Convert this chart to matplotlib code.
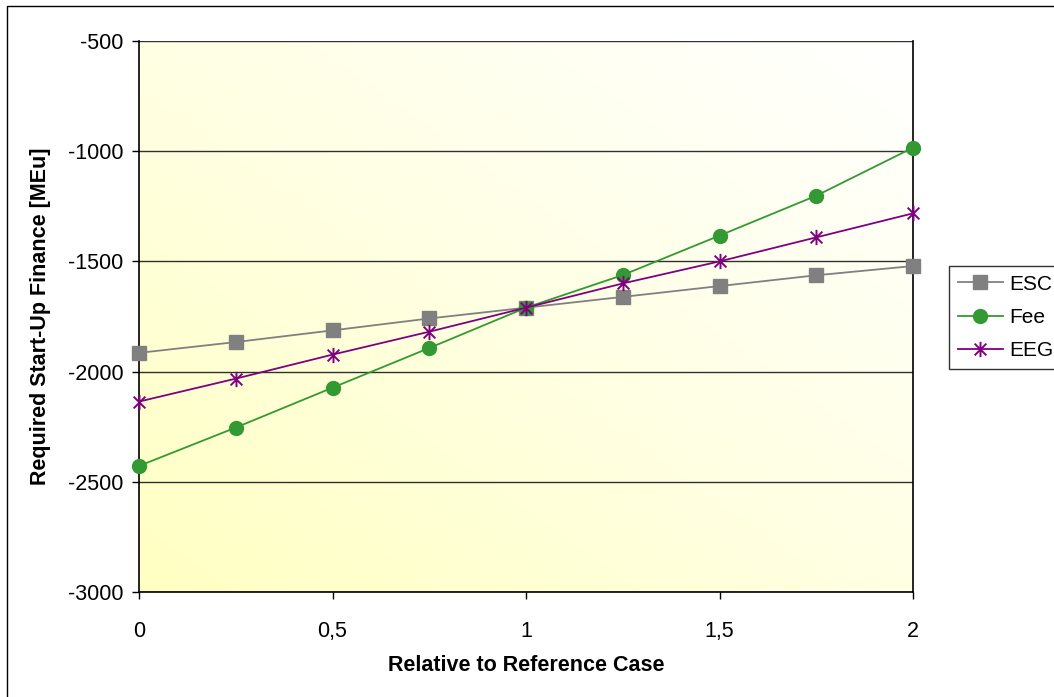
import numpy as np
import matplotlib
matplotlib.use("Agg")
import matplotlib.pyplot as plt
from matplotlib.path import Path
from matplotlib.colors import LinearSegmentedColormap
from matplotlib.patches import Rectangle

plt.rcParams['font.family'] = ['Liberation Sans', 'DejaVu Sans']
plt.rcParams['axes.unicode_minus'] = False

# sensitivity factors and required start-up finance per parameter
factors = [0, 0.25, 0.5, 0.75, 1, 1.25, 1.5, 1.75, 2]
esc = [-1915, -1866, -1813, -1759, -1710, -1661, -1612, -1563, -1521]
fee = [-2428, -2254, -2073, -1893, -1710, -1562, -1383, -1202, -984]
eeg = [-2136, -2032, -1923, -1819, -1710, -1600, -1500, -1391, -1282]

xticks = [0, 0.5, 1, 1.5, 2]
xticklabels = ['0', '0,5', '1', '1,5', '2']
yticks = [-3000, -2500, -2000, -1500, -1000, -500]

# asterisk marker: an X with a vertical bar through it
star = Path([(-1, -1), (1, 1), (-1, 1), (1, -1), (0, -1.3), (0, 1.3)],
            [Path.MOVETO, Path.LINETO, Path.MOVETO, Path.LINETO, Path.MOVETO, Path.LINETO])

fig = plt.figure(figsize=(10.54, 6.97), dpi=100)
ax = fig.add_axes([139/1054, 1 - 592/697, (913 - 139)/1054, (592 - 41)/697])

# plot area background: yellow in the lower left fading to white at the upper right
n = 200
gx, gy = np.meshgrid(np.linspace(0, 1, n), np.linspace(0, 1, n))
grad = (gx + gy) / 2
cmap = LinearSegmentedColormap.from_list('bg', ['#FFFFC2', '#FFFFE4', '#FFFFFF'])
ax.imshow(grad, extent=[0, 2, -3000, -500], origin='lower', cmap=cmap,
          aspect='auto', zorder=0, interpolation='bilinear')

for y in yticks:
    ax.axhline(y, color='#303030', lw=1.0, zorder=1)

ax.plot(factors, esc, color='#808080', lw=1.3, marker='s', ms=9.5,
        mfc='#808080', mec='#808080', label='ESC', zorder=3, clip_on=False)
ax.plot(factors, fee, color='#339933', lw=1.3, marker='o', ms=10,
        mfc='#339933', mec='#339933', label='Fee', zorder=4, clip_on=False)
ax.plot(factors, eeg, color='#800080', lw=1.3, marker=star, ms=11, mew=1.4,
        mfc='none', mec='#800080', label='EEG', zorder=5, clip_on=False)

ax.set_xlim(0, 2)
ax.set_ylim(-3000, -500)
ax.set_xticks(xticks)
ax.set_xticklabels(xticklabels)
ax.set_yticks(yticks)
ax.tick_params(axis='both', direction='out', length=5, width=1, labelsize=15.5,
               color='black', pad=6)
ax.tick_params(axis='x', pad=16)

ax.spines['top'].set_visible(False)
for side in ['left', 'right', 'bottom']:
    ax.spines[side].set_color('black')
    ax.spines[side].set_linewidth(1.2)

ax.set_xlabel('Relative to Reference Case', fontsize=15.5, fontweight='bold', labelpad=9)
ax.set_ylabel('Required Start-Up Finance [MEu]', fontsize=15.5, fontweight='bold', labelpad=12)

leg = fig.legend(loc='upper left', bbox_to_anchor=(949/1054, 1 - 266/697),
                 fontsize=15, frameon=True, fancybox=False, edgecolor='black',
                 borderpad=0.42, handlelength=2.15, handletextpad=0.3, labelspacing=0.68,
                 borderaxespad=0)
leg.get_frame().set_linewidth(1.0)

# chart border
fig.patches.append(Rectangle((7/1054, -0.05), 1.1, 1 - 6/697 + 0.05,
                             transform=fig.transFigure, fill=False,
                             edgecolor='black', lw=1.0, zorder=0))

fig.savefig('out.png', dpi=100)
